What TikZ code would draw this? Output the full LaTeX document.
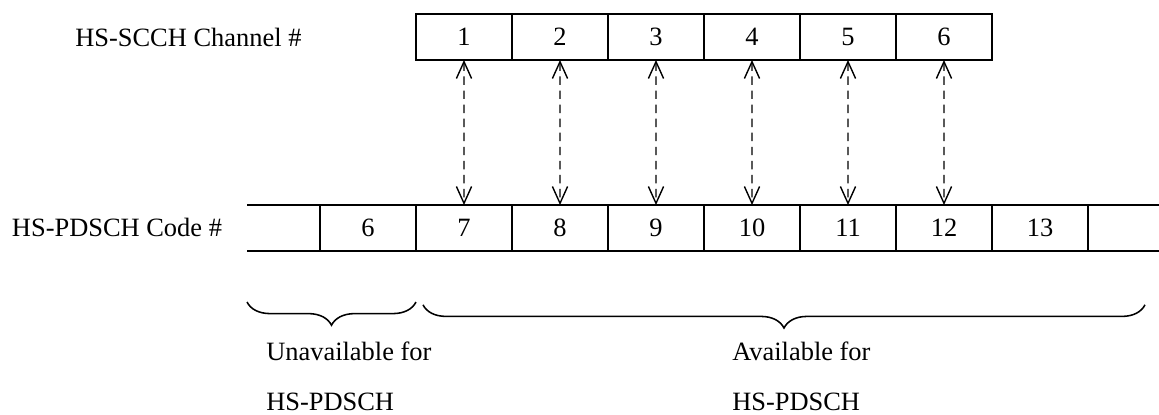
\documentclass[tikz,border=0pt]{standalone}
\usepackage{fontspec}
\setmainfont{Liberation Serif}
\usetikzlibrary{arrows.meta,decorations.pathreplacing}

\tikzset{
  cell/.style={draw, line width=1.3pt, minimum width=2.4cm, minimum height=1.15cm,
               inner sep=0pt, outer sep=0pt},
  link/.style={dashed, dash pattern=on 6pt off 4pt, line width=1pt,
               {Straight Barb[length=4.2mm,width=3.8mm]}-{Straight Barb[length=4.2mm,width=3.8mm]}},
  span/.style={decorate, decoration={brace, mirror, amplitude=0.58cm}, line width=1.1pt},
  caption/.style={anchor=base west, inner sep=0pt}
}

\begin{document}
\begin{tikzpicture}[font=\fontsize{18.8}{22}\selectfont]
  \useasboundingbox (0,0) rectangle (28.975,-10.35);

  % ---- the two rows of boxes ----
  \node[anchor=base] (scchlbl) at (4.71,-1.17) {HS-SCCH Channel \#};
  \foreach \k in {1,...,6}
    \node[cell] (ch\k) at (2.4*\k+9.2,-0.925) {\k};

  \node[anchor=base] (pdschlbl) at (2.925,-5.92) {HS-PDSCH Code \#};
  \foreach \n in {6,...,13}
    \node[cell] (pd\n) at (2.4*\n-5.2,-5.7) {\n};
  % open ends of the code row
  \draw[line width=1.3pt] (pd6.north west) -- ++(-1.825,0)
                          (pd6.south west) -- ++(-1.825,0);
  \draw[line width=1.3pt] (pd13.north east) -- ++(1.775,0)
                          (pd13.south east) -- ++(1.775,0);

  % ---- channel k maps to code k+6 ----
  \foreach \k [evaluate=\k as \m using int(\k+6)] in {1,...,6}
    \draw[link] (ch\k.south) -- (pd\m.north);

  % ---- the two groups below ----
  \coordinate (ua) at (6.175,-7.55);
  \coordinate (ub) at (10.4,-7.55);
  \coordinate (aa) at (10.575,-7.62);
  \coordinate (ab) at (28.625,-7.62);
  \draw[span] (ua) -- (ub);
  \draw[span] (aa) -- (ab);

  \node[caption] (unavail) at (6.65,-9.0) {Unavailable for};
  \node[caption] (unavail2) at (6.65,-10.25) {HS-PDSCH};
  \node[caption] (avail) at (18.3,-9.0) {Available for};
  \node[caption] (avail2) at (18.3,-10.25) {HS-PDSCH};
\end{tikzpicture}
\end{document}
